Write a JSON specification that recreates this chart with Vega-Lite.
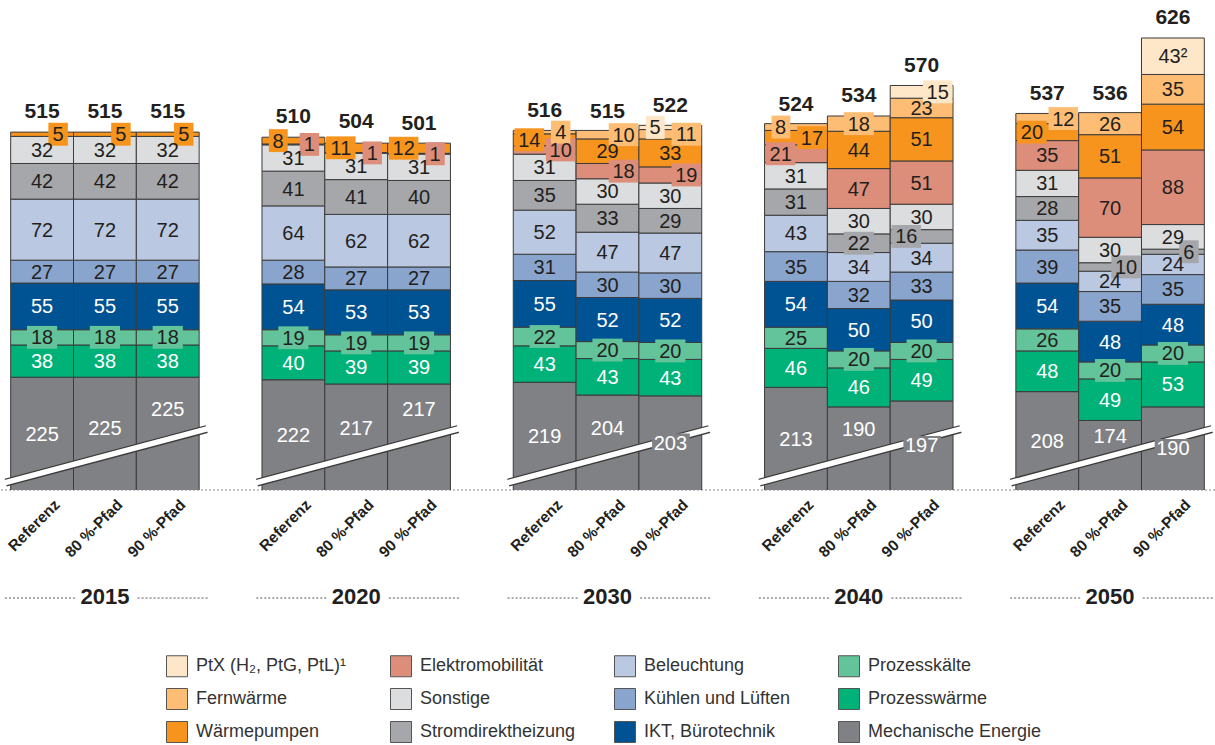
{
  "$schema": "https://vega.github.io/schema/vega-lite/v6.json",
  "width": 1215,
  "height": 480,
  "autosize": {"type": "none"},
  "padding": {"left": 0, "top": 10, "right": 0, "bottom": 255},
  "config": {
    "view": {"stroke": null},
    "text": {"font": "Liberation Sans", "fontSize": 20, "color": "#231f20"}
  },
  "datasets": {
    "seg": [
      {"year": "2015", "scen": "Referenz", "cat": "Mechanische Energie", "v": 225},
      {"year": "2015", "scen": "Referenz", "cat": "Prozesswärme", "v": 38},
      {"year": "2015", "scen": "Referenz", "cat": "Prozesskälte", "v": 18},
      {"year": "2015", "scen": "Referenz", "cat": "IKT, Bürotechnik", "v": 55},
      {"year": "2015", "scen": "Referenz", "cat": "Kühlen und Lüften", "v": 27},
      {"year": "2015", "scen": "Referenz", "cat": "Beleuchtung", "v": 72},
      {"year": "2015", "scen": "Referenz", "cat": "Stromdirektheizung", "v": 42},
      {"year": "2015", "scen": "Referenz", "cat": "Sonstige", "v": 32},
      {"year": "2015", "scen": "Referenz", "cat": "Wärmepumpen", "v": 5},
      {"year": "2015", "scen": "80 %-Pfad", "cat": "Mechanische Energie", "v": 225},
      {"year": "2015", "scen": "80 %-Pfad", "cat": "Prozesswärme", "v": 38},
      {"year": "2015", "scen": "80 %-Pfad", "cat": "Prozesskälte", "v": 18},
      {"year": "2015", "scen": "80 %-Pfad", "cat": "IKT, Bürotechnik", "v": 55},
      {"year": "2015", "scen": "80 %-Pfad", "cat": "Kühlen und Lüften", "v": 27},
      {"year": "2015", "scen": "80 %-Pfad", "cat": "Beleuchtung", "v": 72},
      {"year": "2015", "scen": "80 %-Pfad", "cat": "Stromdirektheizung", "v": 42},
      {"year": "2015", "scen": "80 %-Pfad", "cat": "Sonstige", "v": 32},
      {"year": "2015", "scen": "80 %-Pfad", "cat": "Wärmepumpen", "v": 5},
      {"year": "2015", "scen": "90 %-Pfad", "cat": "Mechanische Energie", "v": 225},
      {"year": "2015", "scen": "90 %-Pfad", "cat": "Prozesswärme", "v": 38},
      {"year": "2015", "scen": "90 %-Pfad", "cat": "Prozesskälte", "v": 18},
      {"year": "2015", "scen": "90 %-Pfad", "cat": "IKT, Bürotechnik", "v": 55},
      {"year": "2015", "scen": "90 %-Pfad", "cat": "Kühlen und Lüften", "v": 27},
      {"year": "2015", "scen": "90 %-Pfad", "cat": "Beleuchtung", "v": 72},
      {"year": "2015", "scen": "90 %-Pfad", "cat": "Stromdirektheizung", "v": 42},
      {"year": "2015", "scen": "90 %-Pfad", "cat": "Sonstige", "v": 32},
      {"year": "2015", "scen": "90 %-Pfad", "cat": "Wärmepumpen", "v": 5},

      {"year": "2020", "scen": "Referenz", "cat": "Mechanische Energie", "v": 222},
      {"year": "2020", "scen": "Referenz", "cat": "Prozesswärme", "v": 40},
      {"year": "2020", "scen": "Referenz", "cat": "Prozesskälte", "v": 19},
      {"year": "2020", "scen": "Referenz", "cat": "IKT, Bürotechnik", "v": 54},
      {"year": "2020", "scen": "Referenz", "cat": "Kühlen und Lüften", "v": 28},
      {"year": "2020", "scen": "Referenz", "cat": "Beleuchtung", "v": 64},
      {"year": "2020", "scen": "Referenz", "cat": "Stromdirektheizung", "v": 41},
      {"year": "2020", "scen": "Referenz", "cat": "Sonstige", "v": 31},
      {"year": "2020", "scen": "Referenz", "cat": "Elektromobilität", "v": 1},
      {"year": "2020", "scen": "Referenz", "cat": "Wärmepumpen", "v": 8},
      {"year": "2020", "scen": "80 %-Pfad", "cat": "Mechanische Energie", "v": 217},
      {"year": "2020", "scen": "80 %-Pfad", "cat": "Prozesswärme", "v": 39},
      {"year": "2020", "scen": "80 %-Pfad", "cat": "Prozesskälte", "v": 19},
      {"year": "2020", "scen": "80 %-Pfad", "cat": "IKT, Bürotechnik", "v": 53},
      {"year": "2020", "scen": "80 %-Pfad", "cat": "Kühlen und Lüften", "v": 27},
      {"year": "2020", "scen": "80 %-Pfad", "cat": "Beleuchtung", "v": 62},
      {"year": "2020", "scen": "80 %-Pfad", "cat": "Stromdirektheizung", "v": 41},
      {"year": "2020", "scen": "80 %-Pfad", "cat": "Sonstige", "v": 31},
      {"year": "2020", "scen": "80 %-Pfad", "cat": "Elektromobilität", "v": 1},
      {"year": "2020", "scen": "80 %-Pfad", "cat": "Wärmepumpen", "v": 11},
      {"year": "2020", "scen": "90 %-Pfad", "cat": "Mechanische Energie", "v": 217},
      {"year": "2020", "scen": "90 %-Pfad", "cat": "Prozesswärme", "v": 39},
      {"year": "2020", "scen": "90 %-Pfad", "cat": "Prozesskälte", "v": 19},
      {"year": "2020", "scen": "90 %-Pfad", "cat": "IKT, Bürotechnik", "v": 53},
      {"year": "2020", "scen": "90 %-Pfad", "cat": "Kühlen und Lüften", "v": 27},
      {"year": "2020", "scen": "90 %-Pfad", "cat": "Beleuchtung", "v": 62},
      {"year": "2020", "scen": "90 %-Pfad", "cat": "Stromdirektheizung", "v": 40},
      {"year": "2020", "scen": "90 %-Pfad", "cat": "Sonstige", "v": 31},
      {"year": "2020", "scen": "90 %-Pfad", "cat": "Elektromobilität", "v": 1},
      {"year": "2020", "scen": "90 %-Pfad", "cat": "Wärmepumpen", "v": 12},

      {"year": "2030", "scen": "Referenz", "cat": "Mechanische Energie", "v": 219},
      {"year": "2030", "scen": "Referenz", "cat": "Prozesswärme", "v": 43},
      {"year": "2030", "scen": "Referenz", "cat": "Prozesskälte", "v": 22},
      {"year": "2030", "scen": "Referenz", "cat": "IKT, Bürotechnik", "v": 55},
      {"year": "2030", "scen": "Referenz", "cat": "Kühlen und Lüften", "v": 31},
      {"year": "2030", "scen": "Referenz", "cat": "Beleuchtung", "v": 52},
      {"year": "2030", "scen": "Referenz", "cat": "Stromdirektheizung", "v": 35},
      {"year": "2030", "scen": "Referenz", "cat": "Sonstige", "v": 31},
      {"year": "2030", "scen": "Referenz", "cat": "Elektromobilität", "v": 10},
      {"year": "2030", "scen": "Referenz", "cat": "Wärmepumpen", "v": 14},
      {"year": "2030", "scen": "Referenz", "cat": "Fernwärme", "v": 4},
      {"year": "2030", "scen": "80 %-Pfad", "cat": "Mechanische Energie", "v": 204},
      {"year": "2030", "scen": "80 %-Pfad", "cat": "Prozesswärme", "v": 43},
      {"year": "2030", "scen": "80 %-Pfad", "cat": "Prozesskälte", "v": 20},
      {"year": "2030", "scen": "80 %-Pfad", "cat": "IKT, Bürotechnik", "v": 52},
      {"year": "2030", "scen": "80 %-Pfad", "cat": "Kühlen und Lüften", "v": 30},
      {"year": "2030", "scen": "80 %-Pfad", "cat": "Beleuchtung", "v": 47},
      {"year": "2030", "scen": "80 %-Pfad", "cat": "Stromdirektheizung", "v": 33},
      {"year": "2030", "scen": "80 %-Pfad", "cat": "Sonstige", "v": 30},
      {"year": "2030", "scen": "80 %-Pfad", "cat": "Elektromobilität", "v": 18},
      {"year": "2030", "scen": "80 %-Pfad", "cat": "Wärmepumpen", "v": 29},
      {"year": "2030", "scen": "80 %-Pfad", "cat": "Fernwärme", "v": 10},
      {"year": "2030", "scen": "90 %-Pfad", "cat": "Mechanische Energie", "v": 203},
      {"year": "2030", "scen": "90 %-Pfad", "cat": "Prozesswärme", "v": 43},
      {"year": "2030", "scen": "90 %-Pfad", "cat": "Prozesskälte", "v": 20},
      {"year": "2030", "scen": "90 %-Pfad", "cat": "IKT, Bürotechnik", "v": 52},
      {"year": "2030", "scen": "90 %-Pfad", "cat": "Kühlen und Lüften", "v": 30},
      {"year": "2030", "scen": "90 %-Pfad", "cat": "Beleuchtung", "v": 47},
      {"year": "2030", "scen": "90 %-Pfad", "cat": "Stromdirektheizung", "v": 29},
      {"year": "2030", "scen": "90 %-Pfad", "cat": "Sonstige", "v": 30},
      {"year": "2030", "scen": "90 %-Pfad", "cat": "Elektromobilität", "v": 19},
      {"year": "2030", "scen": "90 %-Pfad", "cat": "Wärmepumpen", "v": 33},
      {"year": "2030", "scen": "90 %-Pfad", "cat": "Fernwärme", "v": 11},
      {"year": "2030", "scen": "90 %-Pfad", "cat": "PtX (H₂, PtG, PtL)¹", "v": 5},

      {"year": "2040", "scen": "Referenz", "cat": "Mechanische Energie", "v": 213},
      {"year": "2040", "scen": "Referenz", "cat": "Prozesswärme", "v": 46},
      {"year": "2040", "scen": "Referenz", "cat": "Prozesskälte", "v": 25},
      {"year": "2040", "scen": "Referenz", "cat": "IKT, Bürotechnik", "v": 54},
      {"year": "2040", "scen": "Referenz", "cat": "Kühlen und Lüften", "v": 35},
      {"year": "2040", "scen": "Referenz", "cat": "Beleuchtung", "v": 43},
      {"year": "2040", "scen": "Referenz", "cat": "Stromdirektheizung", "v": 31},
      {"year": "2040", "scen": "Referenz", "cat": "Sonstige", "v": 31},
      {"year": "2040", "scen": "Referenz", "cat": "Elektromobilität", "v": 21},
      {"year": "2040", "scen": "Referenz", "cat": "Wärmepumpen", "v": 17},
      {"year": "2040", "scen": "Referenz", "cat": "Fernwärme", "v": 8},
      {"year": "2040", "scen": "80 %-Pfad", "cat": "Mechanische Energie", "v": 190},
      {"year": "2040", "scen": "80 %-Pfad", "cat": "Prozesswärme", "v": 46},
      {"year": "2040", "scen": "80 %-Pfad", "cat": "Prozesskälte", "v": 20},
      {"year": "2040", "scen": "80 %-Pfad", "cat": "IKT, Bürotechnik", "v": 50},
      {"year": "2040", "scen": "80 %-Pfad", "cat": "Kühlen und Lüften", "v": 32},
      {"year": "2040", "scen": "80 %-Pfad", "cat": "Beleuchtung", "v": 34},
      {"year": "2040", "scen": "80 %-Pfad", "cat": "Stromdirektheizung", "v": 22},
      {"year": "2040", "scen": "80 %-Pfad", "cat": "Sonstige", "v": 30},
      {"year": "2040", "scen": "80 %-Pfad", "cat": "Elektromobilität", "v": 47},
      {"year": "2040", "scen": "80 %-Pfad", "cat": "Wärmepumpen", "v": 44},
      {"year": "2040", "scen": "80 %-Pfad", "cat": "Fernwärme", "v": 18},
      {"year": "2040", "scen": "90 %-Pfad", "cat": "Mechanische Energie", "v": 197},
      {"year": "2040", "scen": "90 %-Pfad", "cat": "Prozesswärme", "v": 49},
      {"year": "2040", "scen": "90 %-Pfad", "cat": "Prozesskälte", "v": 20},
      {"year": "2040", "scen": "90 %-Pfad", "cat": "IKT, Bürotechnik", "v": 50},
      {"year": "2040", "scen": "90 %-Pfad", "cat": "Kühlen und Lüften", "v": 33},
      {"year": "2040", "scen": "90 %-Pfad", "cat": "Beleuchtung", "v": 34},
      {"year": "2040", "scen": "90 %-Pfad", "cat": "Stromdirektheizung", "v": 16},
      {"year": "2040", "scen": "90 %-Pfad", "cat": "Sonstige", "v": 30},
      {"year": "2040", "scen": "90 %-Pfad", "cat": "Elektromobilität", "v": 51},
      {"year": "2040", "scen": "90 %-Pfad", "cat": "Wärmepumpen", "v": 51},
      {"year": "2040", "scen": "90 %-Pfad", "cat": "Fernwärme", "v": 23},
      {"year": "2040", "scen": "90 %-Pfad", "cat": "PtX (H₂, PtG, PtL)¹", "v": 15},

      {"year": "2050", "scen": "Referenz", "cat": "Mechanische Energie", "v": 208},
      {"year": "2050", "scen": "Referenz", "cat": "Prozesswärme", "v": 48},
      {"year": "2050", "scen": "Referenz", "cat": "Prozesskälte", "v": 26},
      {"year": "2050", "scen": "Referenz", "cat": "IKT, Bürotechnik", "v": 54},
      {"year": "2050", "scen": "Referenz", "cat": "Kühlen und Lüften", "v": 39},
      {"year": "2050", "scen": "Referenz", "cat": "Beleuchtung", "v": 35},
      {"year": "2050", "scen": "Referenz", "cat": "Stromdirektheizung", "v": 28},
      {"year": "2050", "scen": "Referenz", "cat": "Sonstige", "v": 31},
      {"year": "2050", "scen": "Referenz", "cat": "Elektromobilität", "v": 35},
      {"year": "2050", "scen": "Referenz", "cat": "Wärmepumpen", "v": 20},
      {"year": "2050", "scen": "Referenz", "cat": "Fernwärme", "v": 12},
      {"year": "2050", "scen": "80 %-Pfad", "cat": "Mechanische Energie", "v": 174},
      {"year": "2050", "scen": "80 %-Pfad", "cat": "Prozesswärme", "v": 49},
      {"year": "2050", "scen": "80 %-Pfad", "cat": "Prozesskälte", "v": 20},
      {"year": "2050", "scen": "80 %-Pfad", "cat": "IKT, Bürotechnik", "v": 48},
      {"year": "2050", "scen": "80 %-Pfad", "cat": "Kühlen und Lüften", "v": 35},
      {"year": "2050", "scen": "80 %-Pfad", "cat": "Beleuchtung", "v": 24},
      {"year": "2050", "scen": "80 %-Pfad", "cat": "Stromdirektheizung", "v": 10},
      {"year": "2050", "scen": "80 %-Pfad", "cat": "Sonstige", "v": 30},
      {"year": "2050", "scen": "80 %-Pfad", "cat": "Elektromobilität", "v": 70},
      {"year": "2050", "scen": "80 %-Pfad", "cat": "Wärmepumpen", "v": 51},
      {"year": "2050", "scen": "80 %-Pfad", "cat": "Fernwärme", "v": 26},
      {"year": "2050", "scen": "90 %-Pfad", "cat": "Mechanische Energie", "v": 190},
      {"year": "2050", "scen": "90 %-Pfad", "cat": "Prozesswärme", "v": 53},
      {"year": "2050", "scen": "90 %-Pfad", "cat": "Prozesskälte", "v": 20},
      {"year": "2050", "scen": "90 %-Pfad", "cat": "IKT, Bürotechnik", "v": 48},
      {"year": "2050", "scen": "90 %-Pfad", "cat": "Kühlen und Lüften", "v": 35},
      {"year": "2050", "scen": "90 %-Pfad", "cat": "Beleuchtung", "v": 24},
      {"year": "2050", "scen": "90 %-Pfad", "cat": "Stromdirektheizung", "v": 6},
      {"year": "2050", "scen": "90 %-Pfad", "cat": "Sonstige", "v": 29},
      {"year": "2050", "scen": "90 %-Pfad", "cat": "Elektromobilität", "v": 88},
      {"year": "2050", "scen": "90 %-Pfad", "cat": "Wärmepumpen", "v": 54},
      {"year": "2050", "scen": "90 %-Pfad", "cat": "Fernwärme", "v": 35},
      {"year": "2050", "scen": "90 %-Pfad", "cat": "PtX (H₂, PtG, PtL)¹", "v": 43, "t": "43²"}
    ],
    "tot": [
      {"year": "2015", "scen": "Referenz", "total": 515},
      {"year": "2015", "scen": "80 %-Pfad", "total": 515},
      {"year": "2015", "scen": "90 %-Pfad", "total": 515},
      {"year": "2020", "scen": "Referenz", "total": 510},
      {"year": "2020", "scen": "80 %-Pfad", "total": 504},
      {"year": "2020", "scen": "90 %-Pfad", "total": 501},
      {"year": "2030", "scen": "Referenz", "total": 516},
      {"year": "2030", "scen": "80 %-Pfad", "total": 515},
      {"year": "2030", "scen": "90 %-Pfad", "total": 522},
      {"year": "2040", "scen": "Referenz", "total": 524},
      {"year": "2040", "scen": "80 %-Pfad", "total": 534},
      {"year": "2040", "scen": "90 %-Pfad", "total": 570},
      {"year": "2050", "scen": "Referenz", "total": 537},
      {"year": "2050", "scen": "80 %-Pfad", "total": 536},
      {"year": "2050", "scen": "90 %-Pfad", "total": 626}
    ]
  },
  "layer": [
    {
      "data": {"name": "tot"},
      "transform": [{"calculate": "datum.year + '|' + datum.scen", "as": "k"}],
      "layer": [
        {
          "transform": [{"filter": "datum.year == '2015' && datum.scen == 'Referenz'"}],
          "mark": {"type": "rule", "color": "#8c8c8c", "strokeDash": [2, 2], "strokeWidth": 1.2},
          "encoding": {
            "y": {"datum": 92, "type": "quantitative", "scale": {"domain": [92, 658], "nice": false, "zero": false}, "axis": null}
          }
        }
      ]
    },
    {
      "data": {"name": "seg"},
      "transform": [
        {"calculate": "datum.year + '|' + datum.scen", "as": "k"},
        {"calculate": "indexof(['Mechanische Energie','Prozesswärme','Prozesskälte','IKT, Bürotechnik','Kühlen und Lüften','Beleuchtung','Stromdirektheizung','Sonstige','Elektromobilität','Wärmepumpen','Fernwärme','PtX (H₂, PtG, PtL)¹'], datum.cat)", "as": "ord"},
        {"stack": "v", "groupby": ["k"], "sort": [{"field": "ord", "order": "ascending"}], "as": ["v0", "v1"]}
      ],
      "layer": [
        {
          "mark": {"type": "bar", "clip": true, "stroke": "#3b3b3b", "strokeWidth": 1},
          "encoding": {
            "x": {"field": "k", "type": "nominal", "scale": {"type": "band", "domain": ["2015|Referenz","2015|80 %-Pfad","2015|90 %-Pfad","g1","2020|Referenz","2020|80 %-Pfad","2020|90 %-Pfad","g2","2030|Referenz","2030|80 %-Pfad","2030|90 %-Pfad","g3","2040|Referenz","2040|80 %-Pfad","2040|90 %-Pfad","g4","2050|Referenz","2050|80 %-Pfad","2050|90 %-Pfad"], "paddingInner": 0, "paddingOuter": 0.17}, "axis": null},
            "y": {"field": "v0", "type": "quantitative", "scale": {"domain": [92, 658], "nice": false, "zero": false}, "axis": null},
            "y2": {"field": "v1"},
            "color": {
              "field": "cat", "type": "nominal",
              "scale": {
                "domain": ["PtX (H₂, PtG, PtL)¹","Fernwärme","Wärmepumpen","Elektromobilität","Sonstige","Stromdirektheizung","Beleuchtung","Kühlen und Lüften","IKT, Bürotechnik","Prozesskälte","Prozesswärme","Mechanische Energie"],
                "range": ["#fee6c9","#fdbd74","#f7941d","#dd8e7a","#dcdddf","#a6a7aa","#bac8e2","#8aa5cd","#005393","#63c39b","#00b178","#808184"]
              },
              "legend": {
                "orient": "none", "legendX": 166, "legendY": 645, "columns": 4, "title": null,
                "symbolType": "square", "symbolSize": 441, "symbolStrokeColor": "#555555", "symbolStrokeWidth": 1,
                "symbolOpacity": 1,
                "labelFont": "Liberation Sans", "labelFontSize": 18, "labelColor": "#333333", "labelLimit": 300,
                "labelOffset": 8, "rowPadding": 7, "columnPadding": 18, "gridAlign": "all"
              }
            }
          }
        }
      ]
    },
    {
      "data": {"name": "tot"},
      "transform": [{"calculate": "datum.year + '|' + datum.scen", "as": "k"}],
      "layer": [
        {
          "transform": [{"filter": "datum.scen == 'Referenz'"}],
          "mark": {"type": "rule", "color": "#3b3b3b", "strokeWidth": 8, "strokeCap": "butt"},
          "encoding": {
            "x": {"field": "k", "type": "nominal", "bandPosition": -0.08, "scale": {"type": "band", "domain": ["2015|Referenz","2015|80 %-Pfad","2015|90 %-Pfad","g1","2020|Referenz","2020|80 %-Pfad","2020|90 %-Pfad","g2","2030|Referenz","2030|80 %-Pfad","2030|90 %-Pfad","g3","2040|Referenz","2040|80 %-Pfad","2040|90 %-Pfad","g4","2050|Referenz","2050|80 %-Pfad","2050|90 %-Pfad"], "paddingInner": 0, "paddingOuter": 0.17}, "axis": null},
            "x2": {"field": "k", "bandPosition": 3.12},
            "y": {"datum": 100.8, "type": "quantitative", "scale": {"domain": [92, 658], "nice": false, "zero": false}, "axis": null},
            "y2": {"datum": 163.9}
          }
        },
        {
          "transform": [{"filter": "datum.scen == 'Referenz'"}],
          "mark": {"type": "rule", "color": "#ffffff", "strokeWidth": 5.5, "strokeCap": "butt"},
          "encoding": {
            "x": {"field": "k", "type": "nominal", "bandPosition": -0.1, "scale": {"type": "band", "domain": ["2015|Referenz","2015|80 %-Pfad","2015|90 %-Pfad","g1","2020|Referenz","2020|80 %-Pfad","2020|90 %-Pfad","g2","2030|Referenz","2030|80 %-Pfad","2030|90 %-Pfad","g3","2040|Referenz","2040|80 %-Pfad","2040|90 %-Pfad","g4","2050|Referenz","2050|80 %-Pfad","2050|90 %-Pfad"], "paddingInner": 0, "paddingOuter": 0.17}, "axis": null},
            "x2": {"field": "k", "bandPosition": 3.14},
            "y": {"datum": 100.3, "type": "quantitative", "scale": {"domain": [92, 658], "nice": false, "zero": false}, "axis": null},
            "y2": {"datum": 164.4}
          }
        },
        {
          "mark": {"type": "text", "font": "Liberation Sans", "fontWeight": "bold", "fontSize": 21, "baseline": "alphabetic", "dy": -13, "color": "#231f20"},
          "encoding": {
            "x": {"field": "k", "type": "nominal", "scale": {"type": "band", "domain": ["2015|Referenz","2015|80 %-Pfad","2015|90 %-Pfad","g1","2020|Referenz","2020|80 %-Pfad","2020|90 %-Pfad","g2","2030|Referenz","2030|80 %-Pfad","2030|90 %-Pfad","g3","2040|Referenz","2040|80 %-Pfad","2040|90 %-Pfad","g4","2050|Referenz","2050|80 %-Pfad","2050|90 %-Pfad"], "paddingInner": 0, "paddingOuter": 0.17}, "axis": null},
            "y": {"field": "total", "type": "quantitative", "scale": {"domain": [92, 658], "nice": false, "zero": false}, "axis": null},
            "text": {"field": "total", "type": "quantitative", "format": "d"}
          }
        },
        {
          "mark": {"type": "text", "font": "Liberation Sans", "fontWeight": "bold", "fontSize": 15.5, "angle": 315, "align": "right", "baseline": "middle", "color": "#231f20"},
          "encoding": {
            "x": {"field": "k", "type": "nominal", "bandPosition": 0.74, "scale": {"type": "band", "domain": ["2015|Referenz","2015|80 %-Pfad","2015|90 %-Pfad","g1","2020|Referenz","2020|80 %-Pfad","2020|90 %-Pfad","g2","2030|Referenz","2030|80 %-Pfad","2030|90 %-Pfad","g3","2040|Referenz","2040|80 %-Pfad","2040|90 %-Pfad","g4","2050|Referenz","2050|80 %-Pfad","2050|90 %-Pfad"], "paddingInner": 0, "paddingOuter": 0.17}, "axis": null},
            "y": {"datum": 77.5, "type": "quantitative", "scale": {"domain": [92, 658], "nice": false, "zero": false}, "axis": null},
            "text": {"field": "scen", "type": "nominal"}
          }
        },
        {
          "transform": [{"filter": "datum.scen == '80 %-Pfad'"}],
          "mark": {"type": "text", "font": "Liberation Sans", "fontWeight": "bold", "fontSize": 22, "baseline": "middle", "color": "#231f20"},
          "encoding": {
            "x": {"field": "k", "type": "nominal", "scale": {"type": "band", "domain": ["2015|Referenz","2015|80 %-Pfad","2015|90 %-Pfad","g1","2020|Referenz","2020|80 %-Pfad","2020|90 %-Pfad","g2","2030|Referenz","2030|80 %-Pfad","2030|90 %-Pfad","g3","2040|Referenz","2040|80 %-Pfad","2040|90 %-Pfad","g4","2050|Referenz","2050|80 %-Pfad","2050|90 %-Pfad"], "paddingInner": 0, "paddingOuter": 0.17}, "axis": null},
            "y": {"datum": -34.2, "type": "quantitative", "scale": {"domain": [92, 658], "nice": false, "zero": false}, "axis": null},
            "text": {"field": "year", "type": "nominal"}
          }
        },
        {
          "transform": [{"filter": "datum.scen == 'Referenz'"}],
          "mark": {"type": "rule", "color": "#555555", "strokeDash": [2, 2], "strokeWidth": 1},
          "encoding": {
            "x": {"field": "k", "type": "nominal", "bandPosition": -0.09, "scale": {"type": "band", "domain": ["2015|Referenz","2015|80 %-Pfad","2015|90 %-Pfad","g1","2020|Referenz","2020|80 %-Pfad","2020|90 %-Pfad","g2","2030|Referenz","2030|80 %-Pfad","2030|90 %-Pfad","g3","2040|Referenz","2040|80 %-Pfad","2040|90 %-Pfad","g4","2050|Referenz","2050|80 %-Pfad","2050|90 %-Pfad"], "paddingInner": 0, "paddingOuter": 0.17}, "axis": null},
            "x2": {"field": "k", "bandPosition": 1.04},
            "y": {"datum": -35.4, "type": "quantitative", "scale": {"domain": [92, 658], "nice": false, "zero": false}, "axis": null}
          }
        },
        {
          "transform": [{"filter": "datum.scen == '90 %-Pfad'"}],
          "mark": {"type": "rule", "color": "#555555", "strokeDash": [2, 2], "strokeWidth": 1},
          "encoding": {
            "x": {"field": "k", "type": "nominal", "bandPosition": 0.02, "scale": {"type": "band", "domain": ["2015|Referenz","2015|80 %-Pfad","2015|90 %-Pfad","g1","2020|Referenz","2020|80 %-Pfad","2020|90 %-Pfad","g2","2030|Referenz","2030|80 %-Pfad","2030|90 %-Pfad","g3","2040|Referenz","2040|80 %-Pfad","2040|90 %-Pfad","g4","2050|Referenz","2050|80 %-Pfad","2050|90 %-Pfad"], "paddingInner": 0, "paddingOuter": 0.17}, "axis": null},
            "x2": {"field": "k", "bandPosition": 1.15},
            "y": {"datum": -35.4, "type": "quantitative", "scale": {"domain": [92, 658], "nice": false, "zero": false}, "axis": null}
          }
        }
      ]
    },
    {
      "data": {"name": "seg"},
      "transform": [
        {"calculate": "datum.year + '|' + datum.scen", "as": "k"},
        {"calculate": "indexof(['Mechanische Energie','Prozesswärme','Prozesskälte','IKT, Bürotechnik','Kühlen und Lüften','Beleuchtung','Stromdirektheizung','Sonstige','Elektromobilität','Wärmepumpen','Fernwärme','PtX (H₂, PtG, PtL)¹'], datum.cat)", "as": "ord"},
        {"stack": "v", "groupby": ["k"], "sort": [{"field": "ord", "order": "ascending"}], "as": ["v0", "v1"]},
        {"calculate": "(max(datum.v0, 92) + datum.v1) / 2", "as": "mid"},
        {"calculate": "datum.cat != 'Mechanische Energie' ? datum.mid : (datum.scen == 'Referenz' ? datum.mid : (datum.scen == '80 %-Pfad' ? min((137 + datum.v1) / 2, 165) : (datum.v1 >= 216 ? min((166 + datum.v1) / 2, 188) : datum.mid)))", "as": "ly"},
        {"calculate": "datum.cat == 'Mechanische Energie' && datum.scen == '90 %-Pfad' && datum.v1 < 216", "as": "mbox"},
        {"calculate": "datum.ly - 13.5", "as": "lo"},
        {"calculate": "datum.ly + 13.5", "as": "hi"},
        {"calculate": "datum.ly - 11.2", "as": "mlo"},
        {"calculate": "datum.ly + 11.2", "as": "mhi"},
        {"calculate": "datum.t ? datum.t : format(datum.v, 'd')", "as": "lab"},
        {"calculate": "datum.cat == 'Mechanische Energie' || datum.v > 22 ? 'big' : ((datum.cat == 'Prozesskälte' || (datum.year == '2040' && datum.scen == '80 %-Pfad')) ? 'C' : (((datum.cat == 'Elektromobilität' || datum.cat == 'Fernwärme' || datum.cat == 'Stromdirektheizung') != (datum.year == '2015' || (datum.year == '2040' && datum.scen != '80 %-Pfad'))) ? 'R' : 'L'))", "as": "side"}
      ],
      "layer": [
        {
          "transform": [{"filter": "datum.mbox"}],
          "mark": {"type": "bar", "color": "#808184"},
          "encoding": {
            "x": {"field": "k", "type": "nominal", "bandPosition": 0.21, "scale": {"type": "band", "domain": ["2015|Referenz","2015|80 %-Pfad","2015|90 %-Pfad","g1","2020|Referenz","2020|80 %-Pfad","2020|90 %-Pfad","g2","2030|Referenz","2030|80 %-Pfad","2030|90 %-Pfad","g3","2040|Referenz","2040|80 %-Pfad","2040|90 %-Pfad","g4","2050|Referenz","2050|80 %-Pfad","2050|90 %-Pfad"], "paddingInner": 0, "paddingOuter": 0.17}, "axis": null},
            "x2": {"field": "k", "bandPosition": 0.81},
            "y": {"field": "mlo", "type": "quantitative", "scale": {"domain": [92, 658], "nice": false, "zero": false}, "axis": null},
            "y2": {"field": "mhi"}
          }
        },
        {
          "transform": [{"filter": "datum.side == 'L' && datum.v >= 10"}],
          "mark": {"type": "bar"},
          "encoding": {
            "x": {"field": "k", "type": "nominal", "bandPosition": 0.02, "scale": {"type": "band", "domain": ["2015|Referenz","2015|80 %-Pfad","2015|90 %-Pfad","g1","2020|Referenz","2020|80 %-Pfad","2020|90 %-Pfad","g2","2030|Referenz","2030|80 %-Pfad","2030|90 %-Pfad","g3","2040|Referenz","2040|80 %-Pfad","2040|90 %-Pfad","g4","2050|Referenz","2050|80 %-Pfad","2050|90 %-Pfad"], "paddingInner": 0, "paddingOuter": 0.17}, "axis": null},
            "x2": {"field": "k", "bandPosition": 0.49},
            "y": {"field": "lo", "type": "quantitative", "scale": {"domain": [92, 658], "nice": false, "zero": false}, "axis": null},
            "y2": {"field": "hi"},
            "color": {"field": "cat", "type": "nominal"}
          }
        },
        {
          "transform": [{"filter": "datum.side == 'L' && datum.v < 10"}],
          "mark": {"type": "bar"},
          "encoding": {
            "x": {"field": "k", "type": "nominal", "bandPosition": 0.11, "scale": {"type": "band", "domain": ["2015|Referenz","2015|80 %-Pfad","2015|90 %-Pfad","g1","2020|Referenz","2020|80 %-Pfad","2020|90 %-Pfad","g2","2030|Referenz","2030|80 %-Pfad","2030|90 %-Pfad","g3","2040|Referenz","2040|80 %-Pfad","2040|90 %-Pfad","g4","2050|Referenz","2050|80 %-Pfad","2050|90 %-Pfad"], "paddingInner": 0, "paddingOuter": 0.17}, "axis": null},
            "x2": {"field": "k", "bandPosition": 0.41},
            "y": {"field": "lo", "type": "quantitative", "scale": {"domain": [92, 658], "nice": false, "zero": false}, "axis": null},
            "y2": {"field": "hi"},
            "color": {"field": "cat", "type": "nominal"}
          }
        },
        {
          "transform": [{"filter": "datum.side == 'R' && datum.v >= 10"}],
          "mark": {"type": "bar"},
          "encoding": {
            "x": {"field": "k", "type": "nominal", "bandPosition": 0.52, "scale": {"type": "band", "domain": ["2015|Referenz","2015|80 %-Pfad","2015|90 %-Pfad","g1","2020|Referenz","2020|80 %-Pfad","2020|90 %-Pfad","g2","2030|Referenz","2030|80 %-Pfad","2030|90 %-Pfad","g3","2040|Referenz","2040|80 %-Pfad","2040|90 %-Pfad","g4","2050|Referenz","2050|80 %-Pfad","2050|90 %-Pfad"], "paddingInner": 0, "paddingOuter": 0.17}, "axis": null},
            "x2": {"field": "k", "bandPosition": 0.99},
            "y": {"field": "lo", "type": "quantitative", "scale": {"domain": [92, 658], "nice": false, "zero": false}, "axis": null},
            "y2": {"field": "hi"},
            "color": {"field": "cat", "type": "nominal"}
          }
        },
        {
          "transform": [{"filter": "datum.side == 'R' && datum.v < 10"}],
          "mark": {"type": "bar"},
          "encoding": {
            "x": {"field": "k", "type": "nominal", "bandPosition": 0.6, "scale": {"type": "band", "domain": ["2015|Referenz","2015|80 %-Pfad","2015|90 %-Pfad","g1","2020|Referenz","2020|80 %-Pfad","2020|90 %-Pfad","g2","2030|Referenz","2030|80 %-Pfad","2030|90 %-Pfad","g3","2040|Referenz","2040|80 %-Pfad","2040|90 %-Pfad","g4","2050|Referenz","2050|80 %-Pfad","2050|90 %-Pfad"], "paddingInner": 0, "paddingOuter": 0.17}, "axis": null},
            "x2": {"field": "k", "bandPosition": 0.91},
            "y": {"field": "lo", "type": "quantitative", "scale": {"domain": [92, 658], "nice": false, "zero": false}, "axis": null},
            "y2": {"field": "hi"},
            "color": {"field": "cat", "type": "nominal"}
          }
        },
        {
          "transform": [{"filter": "datum.side == 'C'"}],
          "mark": {"type": "bar"},
          "encoding": {
            "x": {"field": "k", "type": "nominal", "bandPosition": 0.26, "scale": {"type": "band", "domain": ["2015|Referenz","2015|80 %-Pfad","2015|90 %-Pfad","g1","2020|Referenz","2020|80 %-Pfad","2020|90 %-Pfad","g2","2030|Referenz","2030|80 %-Pfad","2030|90 %-Pfad","g3","2040|Referenz","2040|80 %-Pfad","2040|90 %-Pfad","g4","2050|Referenz","2050|80 %-Pfad","2050|90 %-Pfad"], "paddingInner": 0, "paddingOuter": 0.17}, "axis": null},
            "x2": {"field": "k", "bandPosition": 0.74},
            "y": {"field": "lo", "type": "quantitative", "scale": {"domain": [92, 658], "nice": false, "zero": false}, "axis": null},
            "y2": {"field": "hi"},
            "color": {"field": "cat", "type": "nominal"}
          }
        },
        {
          "transform": [{"filter": "datum.side == 'big'"}],
          "mark": {"type": "text", "baseline": "middle", "dy": 1},
          "encoding": {
            "x": {"field": "k", "type": "nominal", "scale": {"type": "band", "domain": ["2015|Referenz","2015|80 %-Pfad","2015|90 %-Pfad","g1","2020|Referenz","2020|80 %-Pfad","2020|90 %-Pfad","g2","2030|Referenz","2030|80 %-Pfad","2030|90 %-Pfad","g3","2040|Referenz","2040|80 %-Pfad","2040|90 %-Pfad","g4","2050|Referenz","2050|80 %-Pfad","2050|90 %-Pfad"], "paddingInner": 0, "paddingOuter": 0.17}, "axis": null},
            "y": {"field": "ly", "type": "quantitative", "scale": {"domain": [92, 658], "nice": false, "zero": false}, "axis": null},
            "text": {"field": "lab", "type": "nominal"},
            "color": {"condition": {"test": "datum.cat == 'Mechanische Energie' || datum.cat == 'Prozesswärme' || datum.cat == 'IKT, Bürotechnik'", "value": "#ffffff"}, "value": "#231f20"}
          }
        },
        {
          "transform": [{"filter": "datum.side == 'L'"}],
          "mark": {"type": "text", "baseline": "middle", "dy": 1},
          "encoding": {
            "x": {"field": "k", "type": "nominal", "bandPosition": 0.256, "scale": {"type": "band", "domain": ["2015|Referenz","2015|80 %-Pfad","2015|90 %-Pfad","g1","2020|Referenz","2020|80 %-Pfad","2020|90 %-Pfad","g2","2030|Referenz","2030|80 %-Pfad","2030|90 %-Pfad","g3","2040|Referenz","2040|80 %-Pfad","2040|90 %-Pfad","g4","2050|Referenz","2050|80 %-Pfad","2050|90 %-Pfad"], "paddingInner": 0, "paddingOuter": 0.17}, "axis": null},
            "y": {"field": "ly", "type": "quantitative", "scale": {"domain": [92, 658], "nice": false, "zero": false}, "axis": null},
            "text": {"field": "lab", "type": "nominal"}
          }
        },
        {
          "transform": [{"filter": "datum.side == 'R'"}],
          "mark": {"type": "text", "baseline": "middle", "dy": 1},
          "encoding": {
            "x": {"field": "k", "type": "nominal", "bandPosition": 0.755, "scale": {"type": "band", "domain": ["2015|Referenz","2015|80 %-Pfad","2015|90 %-Pfad","g1","2020|Referenz","2020|80 %-Pfad","2020|90 %-Pfad","g2","2030|Referenz","2030|80 %-Pfad","2030|90 %-Pfad","g3","2040|Referenz","2040|80 %-Pfad","2040|90 %-Pfad","g4","2050|Referenz","2050|80 %-Pfad","2050|90 %-Pfad"], "paddingInner": 0, "paddingOuter": 0.17}, "axis": null},
            "y": {"field": "ly", "type": "quantitative", "scale": {"domain": [92, 658], "nice": false, "zero": false}, "axis": null},
            "text": {"field": "lab", "type": "nominal"}
          }
        },
        {
          "transform": [{"filter": "datum.side == 'C'"}],
          "mark": {"type": "text", "baseline": "middle", "dy": 1},
          "encoding": {
            "x": {"field": "k", "type": "nominal", "scale": {"type": "band", "domain": ["2015|Referenz","2015|80 %-Pfad","2015|90 %-Pfad","g1","2020|Referenz","2020|80 %-Pfad","2020|90 %-Pfad","g2","2030|Referenz","2030|80 %-Pfad","2030|90 %-Pfad","g3","2040|Referenz","2040|80 %-Pfad","2040|90 %-Pfad","g4","2050|Referenz","2050|80 %-Pfad","2050|90 %-Pfad"], "paddingInner": 0, "paddingOuter": 0.17}, "axis": null},
            "y": {"field": "ly", "type": "quantitative", "scale": {"domain": [92, 658], "nice": false, "zero": false}, "axis": null},
            "text": {"field": "lab", "type": "nominal"}
          }
        }
      ]
    }
  ]
}
